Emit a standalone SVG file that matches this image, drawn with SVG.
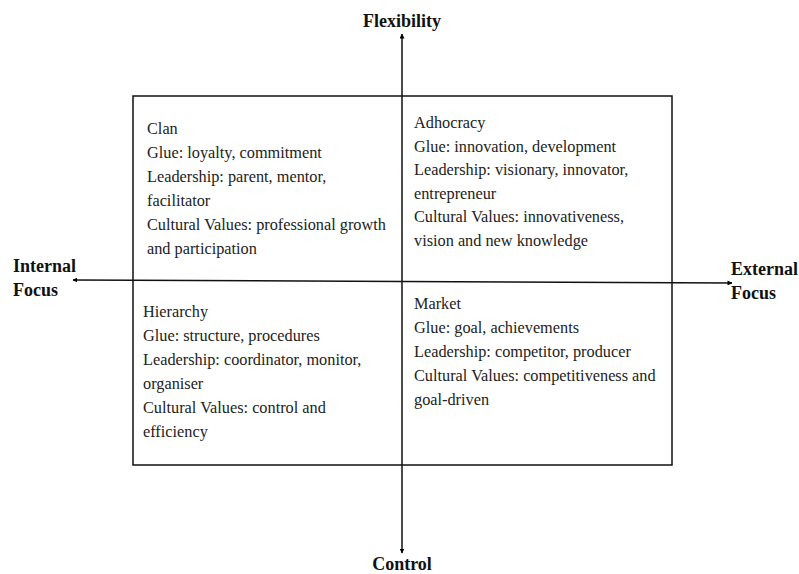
<svg xmlns="http://www.w3.org/2000/svg" width="799" height="574" viewBox="0 0 799 574">
<defs>
<marker id="arr" viewBox="0 0 10 10" refX="9" refY="5" markerWidth="5" markerHeight="5" orient="auto" markerUnits="userSpaceOnUse">
<path d="M0,0 L10,5 L0,10 z" fill="#000"/>
</marker>
</defs>
<style>
.body{font-family:"Liberation Serif","Times New Roman",serif;font-size:16.3px;fill:#222;}
.axis{font-family:"Liberation Serif","Times New Roman",serif;font-size:18px;font-weight:bold;fill:#111;}
.line{stroke:#111;stroke-width:1.5;fill:none;}
</style>
<rect width="799" height="574" fill="#fff"/>
<g id="frame">
<rect class="line" x="133" y="96" width="539" height="369"/>
</g>
<g id="connectors">
<line class="line" x1="402" y1="282" x2="402" y2="34" marker-end="url(#arr)"/>
<line class="line" x1="402" y1="282" x2="402" y2="553" marker-end="url(#arr)"/>
<line class="line" x1="402" y1="281.5" x2="73" y2="280" marker-end="url(#arr)"/>
<line class="line" x1="402" y1="281.5" x2="732" y2="283" marker-end="url(#arr)"/>
</g>
<g id="clan">
<text class="body" x="147" y="134">Clan</text>
<text class="body" x="147" y="158">Glue: loyalty, commitment</text>
<text class="body" x="147" y="182">Leadership: parent, mentor,</text>
<text class="body" x="147" y="206">facilitator</text>
<text class="body" x="147" y="230">Cultural Values: professional growth</text>
<text class="body" x="147" y="254">and participation</text>
</g>
<g id="adhocracy">
<text class="body" x="414" y="128">Adhocracy</text>
<text class="body" x="414" y="152">Glue: innovation, development</text>
<text class="body" x="414" y="175">Leadership: visionary, innovator,</text>
<text class="body" x="414" y="199">entrepreneur</text>
<text class="body" x="414" y="222">Cultural Values: innovativeness,</text>
<text class="body" x="414" y="246">vision and new knowledge</text>
</g>
<g id="hierarchy">
<text class="body" x="143" y="317">Hierarchy</text>
<text class="body" x="143" y="341">Glue: structure, procedures</text>
<text class="body" x="143" y="365">Leadership: coordinator, monitor,</text>
<text class="body" x="143" y="389">organiser</text>
<text class="body" x="143" y="413">Cultural Values: control and</text>
<text class="body" x="143" y="437">efficiency</text>
</g>
<g id="market">
<text class="body" x="414" y="309">Market</text>
<text class="body" x="414" y="333">Glue: goal, achievements</text>
<text class="body" x="414" y="357">Leadership: competitor, producer</text>
<text class="body" x="414" y="381">Cultural Values: competitiveness and</text>
<text class="body" x="414" y="405">goal-driven</text>
</g>
<g id="flexibility">
<text class="axis" x="402" y="27" text-anchor="middle">Flexibility</text>
</g>
<g id="control">
<text class="axis" x="402" y="570" text-anchor="middle">Control</text>
</g>
<g id="internal-focus">
<text class="axis" x="13" y="272">Internal</text>
<text class="axis" x="13" y="296">Focus</text>
</g>
<g id="external-focus">
<text class="axis" x="731" y="275">External</text>
<text class="axis" x="731" y="299">Focus</text>
</g>
</svg>
